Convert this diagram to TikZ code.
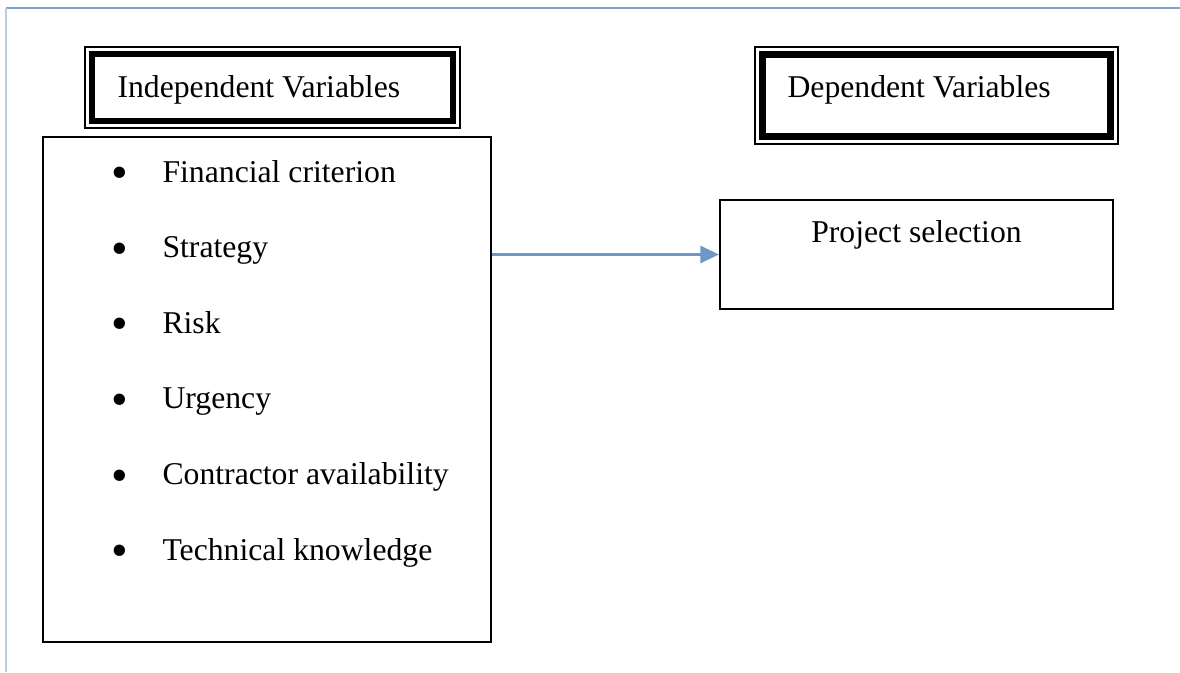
\documentclass[tikz,border=0pt]{standalone}
\usepackage{fontspec}
\setmainfont{Liberation Serif}
\usetikzlibrary{positioning,fit,arrows.meta}
\definecolor{frametop}{HTML}{7FA3CF}
\definecolor{frameside}{HTML}{B9CDE5}
\definecolor{linkblue}{HTML}{6F98C6}

\begin{document}
\begin{tikzpicture}[x=0.3785pt, y=-0.3785pt, font=\fontsize{12}{14}\selectfont,
    thinbox/.style={draw, inner sep=0pt, line width=0.45pt},
    thickbox/.style={draw, inner sep=0pt, line width=2.3pt},
    listbox/.style={draw, inner sep=0pt, line width=0.8pt},
    txt/.style={inner sep=0pt},
    dot/.style={inner sep=0pt, font=\fontsize{18}{18}\selectfont},
    link/.style={linkblue, line width=1.1pt, -{Triangle[length=7pt, width=6.4pt]}}]
  \useasboundingbox (0,0) rectangle (1180,672);

  % page frame
  \draw [frametop, line width=0.5pt] (6,8) -- (1180,8);
  \draw [frameside, line width=0.75pt] (6,8) -- (6,672);

  % headers
  \node [thinbox, fit={(85,47) (460,128)}] (indepOuter) {};
  \node [thickbox, fit={(92,54) (453,121)}] (indepInner) {};
  \node [txt, anchor=base west] (indepText) at (117,97) {Independent Variables};

  \node [thinbox, fit={(755,47) (1118,144)}] (depOuter) {};
  \node [thickbox, fit={(762.5,54.5) (1110.5,136.5)}] (depInner) {};
  \node [txt, anchor=base west] (depText) at (787,97) {Dependent Variables};

  % independent variables
  \node [listbox, fit={(43,137) (491,642)}] (list) {};
  \foreach \lbl [count=\i from 0] in {Financial criterion, Strategy, Risk, Urgency,
      Contractor availability, Technical knowledge} {
    \node [dot] (bul\i) at (120,{178+75.6*\i}) {\textbullet};
    \node [txt, anchor=base west] (var\i) at (162,{182+75.6*\i}) {\lbl};
  }

  % dependent variable
  \node [listbox, fit={(720,200) (1113,309)}] (proj) {};
  \node [txt, anchor=base] (projText) at (916.5,242) {Project selection};

  \draw [link] (list.east |- proj.west) -- (proj.west);
\end{tikzpicture}
\end{document}
